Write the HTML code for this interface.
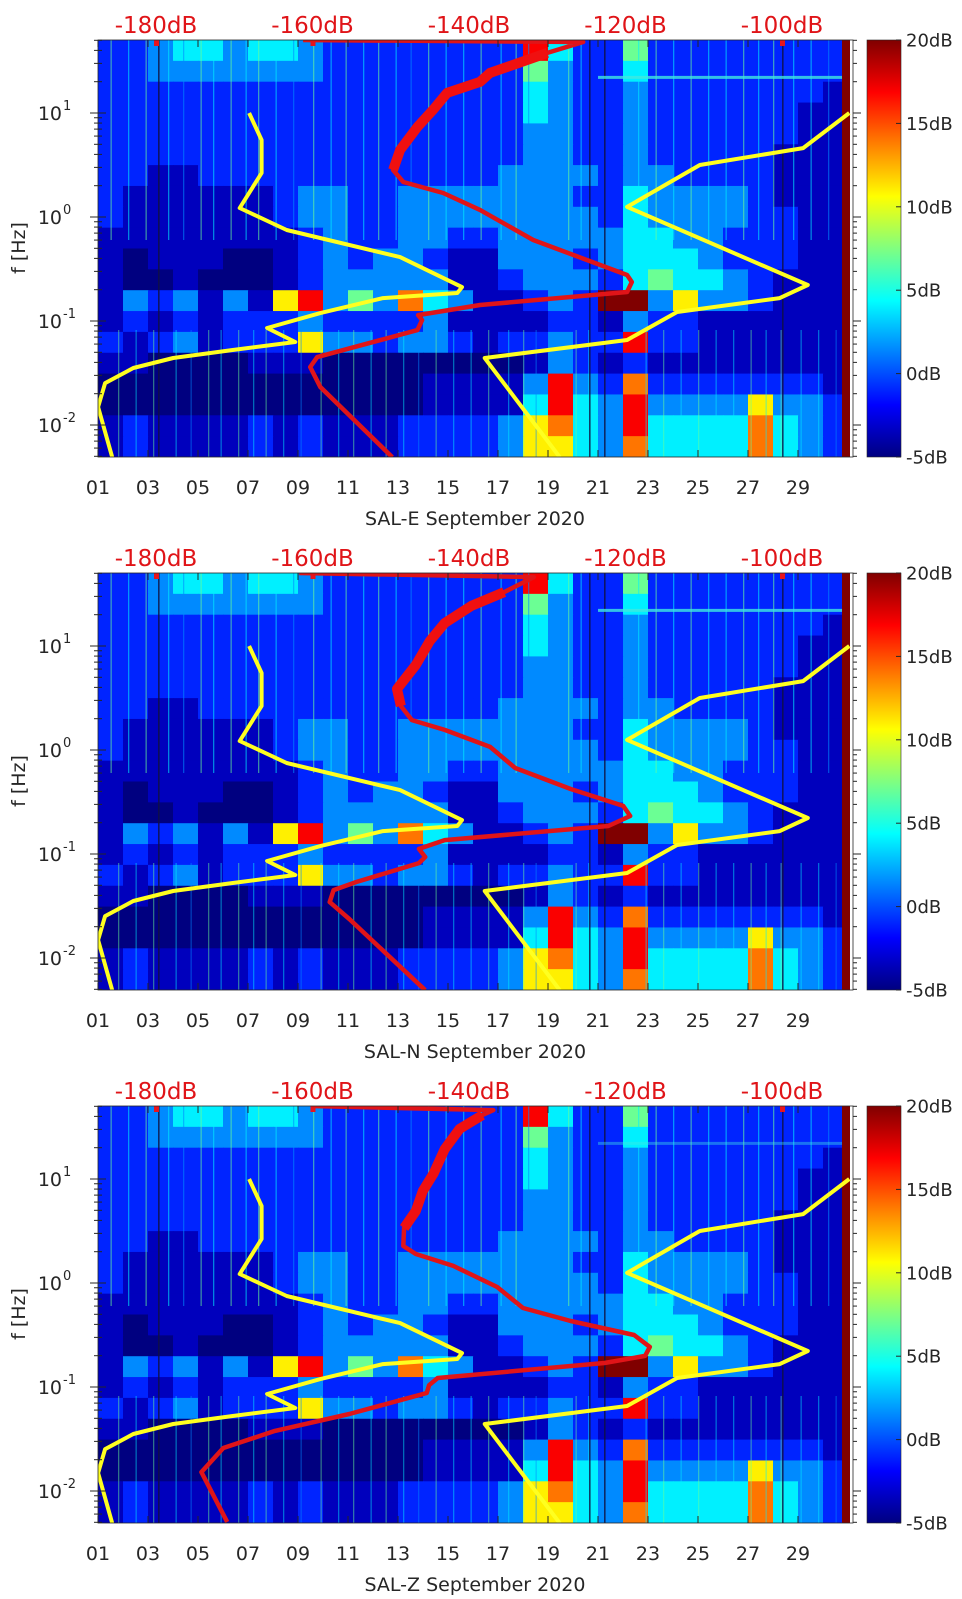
<!DOCTYPE html>
<html><head><meta charset="utf-8"><title>SAL spectrograms</title>
<style>
html,body{margin:0;padding:0;background:#fff;}
svg{display:block;font-family:"DejaVu Sans","Liberation Sans",sans-serif;}
</style></head>
<body>
<svg id="chart" width="962" height="1599" viewBox="0 0 962 1599" xmlns="http://www.w3.org/2000/svg"></svg>
<script>
// ---- data ----
const panelNames = ["SAL-E September 2020","SAL-N September 2020","SAL-Z September 2020"];
const xTickDays = [1,3,5,7,9,11,13,15,17,19,21,23,25,27,29];
const xTickLabels = ["01","03","05","07","09","11","13","15","17","19","21","23","25","27","29"];
const dbTickValues = [-180,-160,-140,-120,-100];
const cbTickValues = [20,15,10,5,0,-5];
const yTickExp = [1,0,-1,-2];
// level code -> dB
const levelValues = [-5,-3.5,-1,1.5,4,7,11,14,17,20];
// spectrogram grid: rows from 50 Hz down to 0.005 Hz (0.2 decade each), columns = days 1..30
const specRows = [
"223443443222222228422522222222",
"223333333222222225322422222222",
"222222222222222224322322222221",
"222222222222222224322322222211",
"222222222222222223322322222211",
"222222222222222223322322222111",
"221122222222222233332332222111",
"211111123322333333322433332111",
"211111123322333333332433332211",
"111111112322332233333443322211",
"101110012323321133323444322211",
"100100012333331123332454432111",
"132313168353743112329936332111",
"121212223222231111221322111111",
"212312226332332122322822111111",
"110000111000000001321211111111",
"000000000000011113832722222221",
"000000000000011114843833336332",
"121111212111222236743844447432",
"121111212111222236643744447432"];
const streakDays = [1.5,2.2,2.9,3.8,4.4,5.1,5.6,6.3,6.9,7.4,8.1,8.8,9.6,10.3,10.9,11.6,12.2,12.9,13.5,14.2,14.9,15.6,16.3,17.1,17.7,18.2,19.8,20.3,22.6,23.3,24.0,24.7,25.4,26.1,26.8,27.4,28.0,28.8,29.5,30.2];
const streakLevels = [5,4,5,4,3,5,4,5,4,5,4,3,5,4,5,4,5,4,3,5,4,4,5,4,5,3,5,4,4,5,4,5,4,4,5,4,5,4,4,3];
const darkLineDays = [3.4,20.64,21.24,28.36];
// noise model curves (Hz, dB) – shared yellow curves
const yelLF = [10,5.5,2.65,1.22,0.75,0.412,0.212,0.186,0.166,0.119,0.0857,0.0628,0.0526,0.0441,0.0353,0.0253,0.0149,0.0049];
const yelLDB = [-168.1,-166.5,-166.5,-169.3,-163.3,-148.8,-140.9,-141.5,-151.0,-159.0,-165.8,-162.2,-170.2,-177.8,-182.9,-186.5,-187.4,-185.6];
const yelRF = [10,4.6,3.16,1.25,0.222,0.166,0.122,0.0656,0.0441,0.0049];
const yelRDB = [-91.4,-97.3,-110.5,-119.8,-96.7,-100.3,-113.4,-119.8,-138.0,-128.4];
// red station noise curves per panel
const redF1 = [0.0049,0.0232,0.0361,0.045,0.0818,0.102,0.114,0.1426,0.19,0.237,0.277,0.601,1.17,1.7,2.17,2.83,4.41,7.33,10.7,15.6,19.9,24.3,37.8,48.2,50.3];
const redDB1 = [-149.8,-159.0,-160.3,-159.4,-146.6,-146.0,-146.5,-138.6,-119.8,-119.2,-119.8,-131.8,-138.6,-143.3,-148.4,-149.7,-148.8,-146.6,-144.6,-142.8,-138.6,-137.3,-130.0,-125.4,-161.2];
const redF2 = [0.0049,0.0237,0.0345,0.045,0.0538,0.0818,0.0935,0.112,0.136,0.186,0.232,0.29,0.422,0.671,1.07,1.56,1.94,2.65,3.86,6.56,11.2,16.6,24.3,33.0,46.0,50.3];
const redDB2 = [-145.6,-155.3,-157.8,-157.3,-154.4,-146.4,-145.6,-146.4,-143.1,-122.2,-119.4,-120.3,-127.0,-134.1,-137.3,-143.1,-147.3,-148.7,-149.2,-146.8,-145.0,-143.1,-139.7,-135.5,-131.7,-161.7];
const redF3 = [0.00503,0.0152,0.0259,0.0378,0.055,0.0875,0.104,0.122,0.17,0.199,0.243,0.316,0.431,0.575,0.916,1.46,1.9,2.27,3.38,4.92,7.67,11.4,19.4,30.3,41.2,46.0,50.3];
const redDB3 = [-170.9,-174.2,-171.4,-164.8,-155.3,-145.4,-145.1,-144.0,-122.7,-117.5,-116.9,-118.9,-127.0,-133.1,-136.4,-142.0,-146.8,-148.4,-148.3,-146.8,-145.9,-144.5,-143.1,-141.2,-138.3,-136.9,-160.1];
const redFs = [redF1,redF2,redF3];
const redDBs = [redDB1,redDB2,redDB3];

// ---- scales ----
const PX0 = 98, PX1 = 853, PY0 = 40, PY1 = 457, PANEL_DY = 533;
function xDay(d){ return PX0 + (d-1)*25; }
function xDB(db){ return 156 + (db+180)/20*156.5; }
function yF(f){ return 113 - (Math.log10(f)-1)*104; }
function yCB(v){ return PY0 + (20-v)/25*(PY1-PY0); }
function jet(t){
  t=Math.max(0,Math.min(1,t));
  const c=v=>Math.round(255*Math.max(0,Math.min(1,v)));
  return "rgb("+c(1.5-Math.abs(4*t-3))+","+c(1.5-Math.abs(4*t-2))+","+c(1.5-Math.abs(4*t-1))+")";
}
function levelDB(ch){ return levelValues[Number(ch)]; }

const NS="http://www.w3.org/2000/svg";
const svg=document.getElementById("chart");
function mk(tag, attrs, parent){
  const e=document.createElementNS(NS,tag);
  for(const k in attrs) e.setAttribute(k,attrs[k]);
  (parent||svg).appendChild(e); return e;
}
const defs=mk("defs",{});
const cg=mk("linearGradient",{id:"jetgrad",x1:"0",y1:"1",x2:"0",y2:"0"},defs);
for(let i=0;i<=16;i++){ mk("stop",{offset:(i/16),"stop-color":jet(i/16)},cg); }
const clip=mk("clipPath",{id:"plotclip"},defs);
mk("rect",{x:PX0,y:PY0,width:PX1-PX0,height:PY1-PY0},clip);

for(let p=0;p<3;p++){
  const g=mk("g",{transform:"translate(0,"+(p*PANEL_DY)+")"});
  
  
  const plot=mk("g",{"clip-path":"url(#plotclip)"},g);
  
  
  const rowH=(PY1-PY0)/specRows.length;
  for(let r=0;r<specRows.length;r++){
    for(let c=0;c<specRows[r].length;c++){
      const v=levelDB(specRows[r][c]);
      const cell=mk("rect",{x:xDay(c+1),y:PY0+r*rowH,width:25.6,height:rowH+0.6,fill:jet((v+5)/25)},plot);
      
      
    }
  }
  for(let i=0;i<streakDays.length;i++){
    const s=mk("rect",{x:xDay(streakDays[i]),y:PY0,width:1.3,height:200,fill:jet((levelDB(streakLevels[i])+5)/25),opacity:0.55},plot);
    
    
    const s2=mk("rect",{x:xDay(streakDays[i]+0.3),y:330,width:1.3,height:127,fill:jet((levelDB(streakLevels[i])+5)/25),opacity:0.45},plot);
    
    
  }
  for(const d of darkLineDays){
    const l=mk("rect",{x:xDay(d),y:PY0,width:1.6,height:PY1-PY0,fill:"#101040",opacity:0.8},plot);
    
    
  }
  const hl=mk("rect",{x:xDay(21),y:yF(22)-1.5,width:xDay(31)-xDay(21),height:3,fill:"#40e8e0",opacity:p==2?0.4:0.8},plot);
  
  
  const strip=mk("rect",{x:842,y:PY0,width:8,height:PY1-PY0,fill:"#800000"},plot);
  
  
  for(const db of [-180,-160,-100]){
    const m=mk("rect",{x:xDB(db)-2,y:PY0,width:5,height:6,fill:"#e8141e"},plot);
    
    
  }
  const pts=(F,D)=>F.map((f,i)=>xDB(D[i]).toFixed(1)+","+yF(f).toFixed(1)).join(" ");
  const yl=mk("polyline",{points:pts(yelLF,yelLDB),fill:"none",stroke:"#ffff20","stroke-width":4,"stroke-linejoin":"round"},plot);
  
  
  const yr=mk("polyline",{points:pts(yelRF,yelRDB),fill:"none",stroke:"#ffff20","stroke-width":4,"stroke-linejoin":"round"},plot);
  
  
  const F=redFs[p], D=redDBs[p];
  const rl=mk("polyline",{points:pts(F,D),fill:"none",stroke:"#e01418","stroke-width":4.5,"stroke-linejoin":"round"},plot);
  
  
  const upF=[],upD=[];
  for(let i=0;i<F.length;i++){ if(F[i]>=2.4 && F[i]<=42){upF.push(F[i]);upD.push(D[i]);} }
  const ru=mk("polyline",{points:pts(upF,upD),fill:"none",stroke:"#f01010","stroke-width":10,"stroke-linejoin":"round"},plot);
  
  

  const box=mk("rect",{x:PX0,y:PY0,width:PX1-PX0,height:PY1-PY0,fill:"none",stroke:"#262626","stroke-width":0.8},g);
  
  
  for(let i=0;i<xTickDays.length;i++){
    const x=xDay(xTickDays[i]);
    mk("line",{x1:x,y1:PY1,x2:x,y2:PY1-7,stroke:"#262626","stroke-width":1},g);
    mk("line",{x1:x,y1:PY0,x2:x,y2:PY0+7,stroke:"#262626","stroke-width":1},g);
    const t=mk("text",{x:x,y:494,"font-size":19,"text-anchor":"middle",fill:"#262626"},g);
    t.textContent=xTickLabels[i];
    
    
  }
  const xt=mk("text",{x:475,y:525,"font-size":19,"text-anchor":"middle",fill:"#262626"},g);
  xt.textContent=panelNames[p];
  
  
  for(const db of dbTickValues){
    const t=mk("text",{x:xDB(db),y:33,"font-size":23,"text-anchor":"middle",fill:"#e01418"},g);
    t.textContent=db+"dB";
    
    
  }
  for(let e=-3;e<=1;e++){
    for(let m=1;m<=9;m++){
      const f=m*Math.pow(10,e);
      if(f<0.005||f>50) continue;
      const y=yF(f), len=(m==1)?8:4;
      mk("line",{x1:PX0,y1:y,x2:PX0+len,y2:y,stroke:"#262626","stroke-width":1},g);
      mk("line",{x1:PX0-len,y1:y,x2:PX0,y2:y,stroke:"#262626","stroke-width":1},g);
      mk("line",{x1:PX1,y1:y,x2:PX1+len,y2:y,stroke:"#262626","stroke-width":1},g);
    }
  }
  for(const e of yTickExp){
    const y=yF(Math.pow(10,e));
    const t=mk("text",{x:62,y:y+7,"font-size":19,"text-anchor":"end",fill:"#262626"},g);
    t.textContent="10";
    
    
    const s=mk("text",{x:63,y:y-3,"font-size":13,"text-anchor":"start",fill:"#262626"},g);
    s.textContent=String(e);
    
    
  }
  const yt=mk("text",{x:0,y:0,"font-size":19,"text-anchor":"middle",fill:"#262626",transform:"translate(25,248) rotate(-90)"},g);
  yt.textContent="f [Hz]";
  
  
  const cb=mk("rect",{x:867,y:PY0,width:34,height:PY1-PY0,fill:"url(#jetgrad)",stroke:"#262626","stroke-width":0.6},g);
  
  
  for(const v of cbTickValues){
    const y=yCB(v);
    mk("line",{x1:896,y1:y,x2:901,y2:y,stroke:"#262626","stroke-width":1},g);
    const t=mk("text",{x:906,y:y+6.5,"font-size":18,"text-anchor":"start",fill:"#262626"},g);
    t.textContent=v+"dB";
    
    
  }
}
</script>
</body></html>
